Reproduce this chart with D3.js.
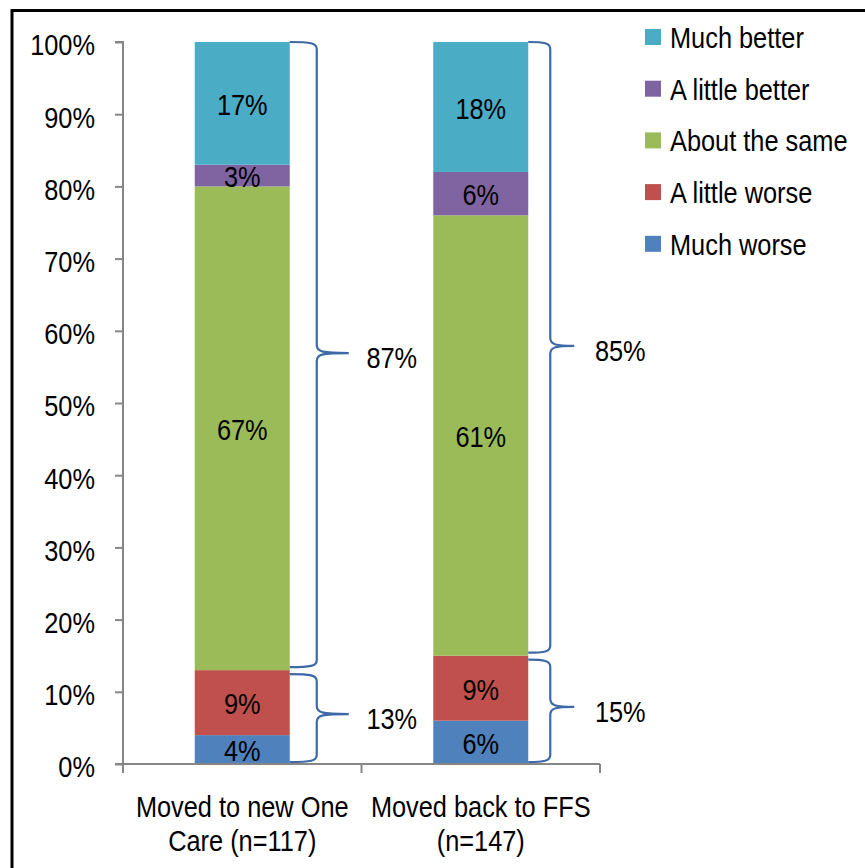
<!DOCTYPE html>
<html><head><meta charset="utf-8">
<script src="https://cdn.jsdelivr.net/npm/d3@7"></script>
<style>html,body{margin:0;padding:0;background:#fff;overflow:hidden}text{font-family:"Liberation Sans",Arial,sans-serif;}</style>
</head><body>
<svg id="c" width="865" height="868"></svg>
<script>
const categories = ["Moved to new One Care (n=117)", "Moved back to FFS (n=147)"];
const categoryLines = [["Moved to new One", "Care (n=117)"], ["Moved back to FFS", "(n=147)"]];
const seriesNames = ["Much worse", "A little worse", "About the same", "A little better", "Much better"];
const seriesColors = ["#4F81BD", "#C0504D", "#9BBB59", "#8064A2", "#4BACC6"];
const muchWorse = [4, 6];
const littleWorse = [9, 9];
const aboutSame = [67, 61];
const littleBetter = [3, 6];
const muchBetter = [17, 18];
const yTicks = [0, 10, 20, 30, 40, 50, 60, 70, 80, 90, 100];
// bracket groups
const bracketCat = [0, 0, 1, 1];
const bracketFrom = [13, 0, 15, 0];
const bracketTo = [100, 13, 100, 15];
const bracketLabel = ["87%", "13%", "85%", "15%"];

const FS = 30, SX = 0.845;
const svg = d3.select("#c");
function addText(parent, tx, ty, str, anchor) {
  return parent.append("text")
    .attr("transform", `translate(${tx},${ty}) scale(${SX},1)`)
    .attr("dy", "0.36em")
    .attr("text-anchor", anchor || "middle")
    .attr("font-size", FS)
    .attr("fill", "#000")
    .text(str);
}

svg.append("rect").attr("x", 12).attr("y", 10.5).attr("width", 900).attr("height", 900)
  .attr("fill", "none").attr("stroke", "#000").attr("stroke-width", 3);

const x = d3.scaleBand().domain(categories).range([123, 600]).paddingInner(0).paddingOuter(0);
const y = d3.scaleLinear().domain([0, 100]).range([764, 42]);
const barW = 95;
const cx = c => x(c) + x.bandwidth() / 2;

const series = [muchWorse, littleWorse, aboutSame, littleBetter, muchBetter];
const table = categories.map((c, i) => {
  const o = {cat: c};
  seriesNames.forEach((s, j) => o[s] = series[j][i]);
  return o;
});
const stack = d3.stack().keys(seriesNames)(table);

const g = svg.append("g");
stack.forEach((layer, j) => {
  layer.forEach(d => {
    g.append("rect")
      .attr("x", cx(d.data.cat) - barW / 2)
      .attr("y", y(d[1]))
      .attr("width", barW)
      .attr("height", y(d[0]) - y(d[1]))
      .attr("fill", seriesColors[j]);
    addText(g, cx(d.data.cat), (y(d[0]) + y(d[1])) / 2 + 1, (d[1] - d[0]) + "%");
  });
});

// Y axis
const yAxis = d3.axisLeft(y).tickValues(yTicks).tickFormat(d => d + "%").tickSize(8).tickPadding(28);
const ya = svg.append("g").attr("transform", "translate(123,0)").call(yAxis);
ya.selectAll("path,line").attr("stroke", "#868686").attr("stroke-width", 2);
ya.select("path").attr("d", "M-8,42H0V764H-8");
ya.selectAll(".tick text")
  .attr("x", null).attr("dy", "0.36em")
  .attr("transform", `translate(-28,2) scale(${SX},1)`)
  .attr("font-size", FS).attr("fill", "#000")
  .attr("font-family", "Liberation Sans, Arial, sans-serif");

// X axis
const xa = svg.append("g").attr("transform", "translate(0,764)")
  .call(d3.axisBottom(x).tickSize(0).tickFormat(""));
xa.select("path").attr("stroke", "#868686").attr("stroke-width", 2).attr("d", "M123,0H600");
const tickXs = [x(categories[0]), x(categories[1]), x(categories[1]) + x.bandwidth()];
tickXs.forEach(tx => xa.append("line").attr("x1", tx).attr("x2", tx).attr("y1", 0).attr("y2", 9)
  .attr("stroke", "#868686").attr("stroke-width", 2));
categories.forEach((c, i) => {
  categoryLines[i].forEach((ln, k) => {
    addText(svg, cx(c), 806 + k * 34, ln);
  });
});

// Brackets
const lineOff = [27, 22];
const tipOff = [59, 46];
const labelOff = [102, 92];
const bg = svg.append("g");
bracketCat.forEach((ci, k) => {
  const c = categories[ci];
  const xb = cx(c) + barW / 2;
  const xl = xb + lineOff[ci];
  const xt = xb + tipOff[ci];
  const y0 = y(bracketTo[k]) + (bracketTo[k] === 100 ? 0 : 4);
  const y1 = y(bracketFrom[k]) - (bracketFrom[k] === 0 ? 2 : 3);
  const ym = (y(bracketFrom[k]) + y(bracketTo[k])) / 2 - 3;
  const r = 7;
  const p = `M${xb},${y0} C${xl - 6},${y0} ${xl},${y0 + 1} ${xl},${y0 + r}`
    + ` L${xl},${ym - 8} C${xl},${ym - 1} ${xl + 6},${ym} ${xt},${ym}`
    + ` C${xl + 6},${ym} ${xl},${ym + 1} ${xl},${ym + 8}`
    + ` L${xl},${y1 - r} C${xl},${y1 - 1} ${xl - 6},${y1} ${xb},${y1}`;
  bg.append("path").attr("d", p).attr("fill", "none").attr("stroke", "#3D6AA6").attr("stroke-width", 2.2);
  addText(bg, xb + labelOff[ci], ym + 4, bracketLabel[k]);
});

// Legend
const legOrder = [4, 3, 2, 1, 0];
const lg = svg.append("g");
legOrder.forEach((j, i) => {
  const ly = 37 + i * 51.7;
  lg.append("rect").attr("x", 645).attr("y", ly - 8).attr("width", 16).attr("height", 16).attr("fill", seriesColors[j]);
  addText(lg, 670, ly, seriesNames[j], "start");
});
</script>
</body></html>
